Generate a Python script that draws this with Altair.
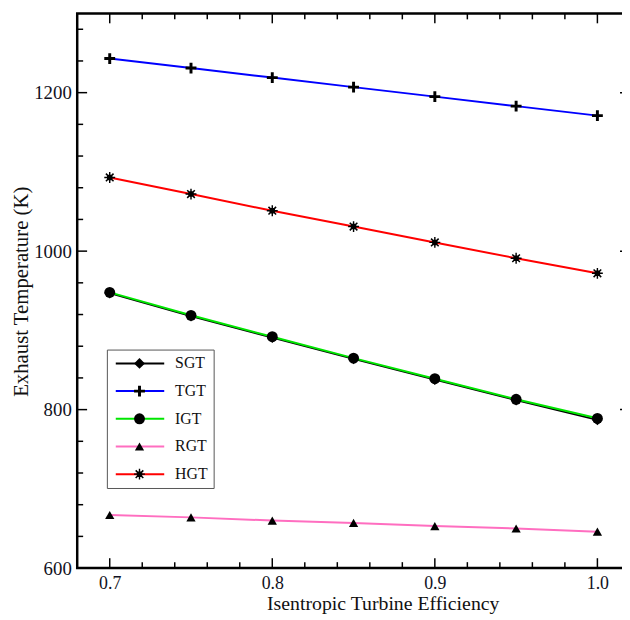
import altair as alt
import pandas as pd

# ---- data ----
efficiency = [0.70, 0.75, 0.80, 0.85, 0.90, 0.95, 1.00]
series_names = ["SGT", "TGT", "IGT", "RGT", "HGT"]
sgt = [947, 918, 891, 864, 838, 812, 787]
tgt = [1243, 1231, 1219, 1207, 1195, 1183, 1171]
igt = [948, 919, 892, 865, 839, 813, 789]
rgt = [667, 664, 660, 657, 653, 650, 646]
hgt = [1093, 1072, 1051, 1031, 1011, 991, 972]

x_major_ticks = [0.7, 0.8, 0.9, 1.0]
x_minor_ticks = [0.72, 0.74, 0.76, 0.78, 0.82, 0.84, 0.86, 0.88,
                 0.92, 0.94, 0.96, 0.98]
y_major_ticks = [600, 800, 1000, 1200]
y_minor_ticks = [640, 680, 720, 760, 840, 880, 920, 960,
                 1040, 1080, 1120, 1160, 1240, 1280]

# ---- styles ----
line_colors = ["#000000", "#0000ff", "#00e600", "#ff6ec0", "#ff0000"]
diamond = "M0,-1L1,0L0,1L-1,0Z"
plus = "M-1,-0.27H1V0.27H-1Z M-0.27,-1H0.27V1H-0.27Z"
triangle = "M0,-0.75L0.85,0.75L-0.85,0.75Z"
asterisk = ("M-0.5,-0.5H0.5V0.5H-0.5Z "
            "M-0.13,-1H0.13V1H-0.13Z "
            "M-1,-0.13H1V0.13H-1Z "
            "M-0.6,-0.8L0.8,0.6L0.6,0.8L-0.8,-0.6Z "
            "M-0.8,0.6L0.6,-0.8L0.8,-0.6L-0.6,0.8Z")
marker_shapes = [diamond, plus, "circle", triangle, asterisk]

FONT = "Liberation Serif"
W, H = 559, 561

rows = []
for name, vals in zip(series_names, [sgt, tgt, igt, rgt, hgt]):
    for e, v in zip(efficiency, vals):
        rows.append({"eff": e, "temp": v, "series": name, "marker": name})
df = pd.DataFrame(rows)

xaxis = alt.Axis(values=x_major_ticks, format=".1f", ticks=False, tickSize=0,
                 domain=False, grid=False, labelFont=FONT, labelFontSize=18,
                 labelColor="#111122", labelBaseline="alphabetic", labelPadding=21,
                 title="Isentropic Turbine Efficiency", titleFont=FONT,
                 titleFontSize=20, titleFontWeight="normal", titleColor="#111111",
                 titleX=309, titleY=42, titleAlign="center",
                 titleBaseline="alphabetic")
yaxis = alt.Axis(values=y_major_ticks, format="d", ticks=False, tickSize=0,
                 domain=False, grid=False, labelFont=FONT, labelFontSize=19,
                 labelColor="#111122", labelPadding=6,
                 title="Exhaust Temperature (K)", titleFont=FONT,
                 titleFontSize=21, titleFontWeight="normal", titleColor="#111111",
                 titleAngle=270, titleX=-50, titleY=281, titleAlign="center",
                 titleBaseline="alphabetic")
X = alt.X("eff:Q", scale=alt.Scale(domain=[0.68, 1.02], nice=False, zero=False),
          axis=xaxis)
Y = alt.Y("temp:Q", scale=alt.Scale(domain=[600, 1300], nice=False, zero=False),
          axis=yaxis)

lines = alt.Chart(df).mark_line(strokeWidth=2).encode(
    x=X, y=Y,
    color=alt.Color("series:N",
                    scale=alt.Scale(domain=series_names, range=line_colors),
                    sort=series_names,
                    legend=alt.Legend(orient="none", legendX=30, legendY=340,
                                      title=None, symbolType="M-1,0H8.8",
                                      symbolSize=100, symbolStrokeWidth=2,
                                      labelFont=FONT, labelFontSize=16,
                                      labelColor="#111111", labelOffset=47,
                                      padding=6, rowPadding=12,
                                      strokeColor="#555555")),
)

points = alt.Chart(df).mark_point(filled=True, size=121, color="black",
                                  opacity=1, strokeWidth=0).encode(
    x=X, y=Y,
    shape=alt.Shape("marker:N",
                    scale=alt.Scale(domain=series_names, range=marker_shapes),
                    sort=series_names,
                    legend=alt.Legend(orient="none", legendX=49, legendY=340,
                                      title=None, symbolSize=121,
                                      symbolFillColor="black",
                                      symbolStrokeWidth=0,
                                      labelExpr="''",
                                      labelFont=FONT, labelFontSize=16,
                                      padding=6, rowPadding=12)),
)


def xticks(vals, y0, y1):
    return alt.Chart(pd.DataFrame({"eff": vals})).mark_rule(
        color="black", strokeWidth=1.5).encode(
        x=X, y=alt.value(y0), y2=alt.value(y1))


def yticks(vals, x0, x1):
    return alt.Chart(pd.DataFrame({"temp": vals})).mark_rule(
        color="black", strokeWidth=1.5).encode(
        y=Y, x=alt.value(x0), x2=alt.value(x1))


MAJ, MIN = 10, 6
chart = alt.layer(
    xticks(x_major_ticks, H, H - MAJ),
    xticks(x_minor_ticks, H, H - MIN),
    xticks(x_major_ticks, 0, MAJ),
    xticks(x_minor_ticks, 0, MIN),
    yticks(y_major_ticks, 0, MAJ),
    yticks(y_minor_ticks, 0, MIN),
    yticks(y_major_ticks, W, W - MAJ),
    yticks(y_minor_ticks, W, W - MIN),
    lines,
    points,
).resolve_legend(color="independent", shape="independent").properties(
    width=W, height=H,
    autosize=alt.AutoSizeParams(type="none"),
    padding={"left": 70, "top": 2, "right": -8, "bottom": 47},
).configure_view(stroke="black", strokeWidth=2.5)

chart.save("out.html", embed_options={"renderer": "svg", "actions": False})
